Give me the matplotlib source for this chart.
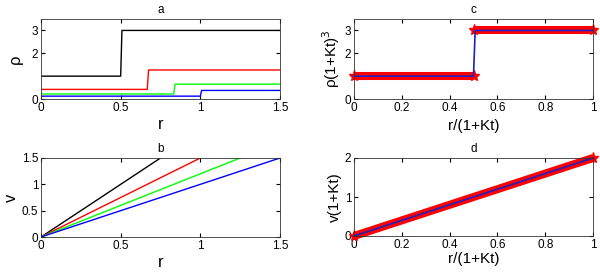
import numpy as np
import matplotlib
matplotlib.use('Agg')
import matplotlib.pyplot as plt

plt.rcParams['font.family'] = ['Liberation Sans', 'DejaVu Sans']

# panel a: density profiles at four times (step functions)
a_jump = [0.5, 0.667, 0.833, 1.0]
a_low = [1.0, 0.42, 0.22, 0.125]
a_high = [3.0, 1.27, 0.65, 0.375]
colors = ['black', 'red', '#00ff00', 'blue']
r_end = 1.5

# panel b: velocity profiles v = slope * r
b_r = [0, 1.5]
b_v = [[0, 3.0], [0, 2.25], [0, 1.8], [0, 1.5]]

# panel c: scaled density (red stars = all times, blue = reference)
c_x_low = [0, 0.05, 0.1, 0.15, 0.2, 0.25, 0.3, 0.35, 0.4, 0.45, 0.5]
c_y_low = [1.0] * len(c_x_low)
c_x_high = [0.5, 0.55, 0.6, 0.65, 0.7, 0.75, 0.8, 0.85, 0.9, 0.95, 1.0]
c_y_high = [3.0] * len(c_x_high)
c_line_x = [0, 0.5, 0.507, 1.0]
c_line_y = [1.0, 1.0, 3.0, 3.0]

# panel d: scaled velocity
d_x = [0, 0.1, 0.2, 0.3, 0.4, 0.5, 0.6, 0.7, 0.8, 0.9, 1.0]
d_y = [0, 0.2, 0.4, 0.6, 0.8, 1.0, 1.2, 1.4, 1.6, 1.8, 2.0]

fig = plt.figure(figsize=(6, 2.75), dpi=100)
W, H = 600, 275
def add_ax(x0, y0, x1, y1):
    return fig.add_axes([x0 / W, 1 - y1 / H, (x1 - x0) / W, (y1 - y0) / H])

axa = add_ax(41, 19, 280, 99)
axc = add_ax(354, 19, 593, 99)
axb = add_ax(41, 158, 280, 237)
axd = add_ax(354, 158, 593, 236)

def style(ax, title):
    ax.tick_params(direction='in', top=True, right=True, length=3, labelsize=8.5, pad=2)
    ax.set_title(title, fontsize=8.5, pad=4)
    for s in ax.spines.values():
        s.set_linewidth(0.6)
        s.set_color('#333333')

def star_band(ax, xs, ys):
    # dense red stars merge into a thick band
    ax.plot(xs, ys, color='red', lw=5.8, solid_capstyle='butt', clip_on=False)
    ax.plot(xs, ys, ls='none', marker='*', ms=8, color='red', markevery=[0, -1],
            clip_on=False)

# a
for j, lo, hi, c in zip(a_jump, a_low, a_high, colors):
    axa.plot([0, j, j + 0.008, r_end], [lo, lo, hi, hi], color=c, lw=1)
axa.set_xlim(0, 1.5)
axa.set_ylim(0, 3.5)
axa.set_xticks([0, 0.5, 1, 1.5])
axa.set_xticklabels(['0', '0.5', '1', '1.5'])
axa.set_yticks([0, 2, 3])
axa.set_xlabel('r', fontsize=12, labelpad=2)
axa.set_ylabel('ρ', fontsize=12, labelpad=6)
style(axa, 'a')

# b
for v, c in zip(b_v, colors):
    axb.plot(b_r, v, color=c, lw=1)
axb.set_xlim(0, 1.5)
axb.set_ylim(0, 1.5)
axb.set_xticks([0, 0.5, 1, 1.5])
axb.set_xticklabels(['0', '0.5', '1', '1.5'])
axb.set_yticks([0, 0.5, 1, 1.5])
axb.set_yticklabels(['0', '0.5', '1', '1.5'])
axb.set_xlabel('r', fontsize=12, labelpad=2)
axb.set_ylabel('v', fontsize=12, labelpad=2)
style(axb, 'b')

# c
star_band(axc, c_x_low, c_y_low)
star_band(axc, c_x_high, c_y_high)
axc.plot(c_line_x, c_line_y, color='#2020c0', lw=1.2, clip_on=False)
axc.set_xlim(0, 1)
axc.set_ylim(0, 3.5)
axc.set_xticks([0, 0.2, 0.4, 0.6, 0.8, 1])
axc.set_xticklabels(['0', '0.2', '0.4', '0.6', '0.8', '1'])
axc.set_yticks([0, 2, 3])
axc.set_xlabel('r/(1+Kt)', fontsize=11, labelpad=4)
axc.set_ylabel('ρ(1+Kt)$^3$', fontsize=11, labelpad=2)
style(axc, 'c')

# d
star_band(axd, d_x, d_y)
axd.plot(d_x, d_y, color='#2020c0', lw=1.2, clip_on=False)
axd.set_xlim(0, 1)
axd.set_ylim(0, 2)
axd.set_xticks([0, 0.2, 0.4, 0.6, 0.8, 1])
axd.set_xticklabels(['0', '0.2', '0.4', '0.6', '0.8', '1'])
axd.set_yticks([0, 1, 2])
axd.set_xlabel('r/(1+Kt)', fontsize=11, labelpad=1)
axd.set_ylabel('v(1+Kt)', fontsize=11, labelpad=2)
style(axd, 'd')

fig.savefig('out.png', dpi=100)
